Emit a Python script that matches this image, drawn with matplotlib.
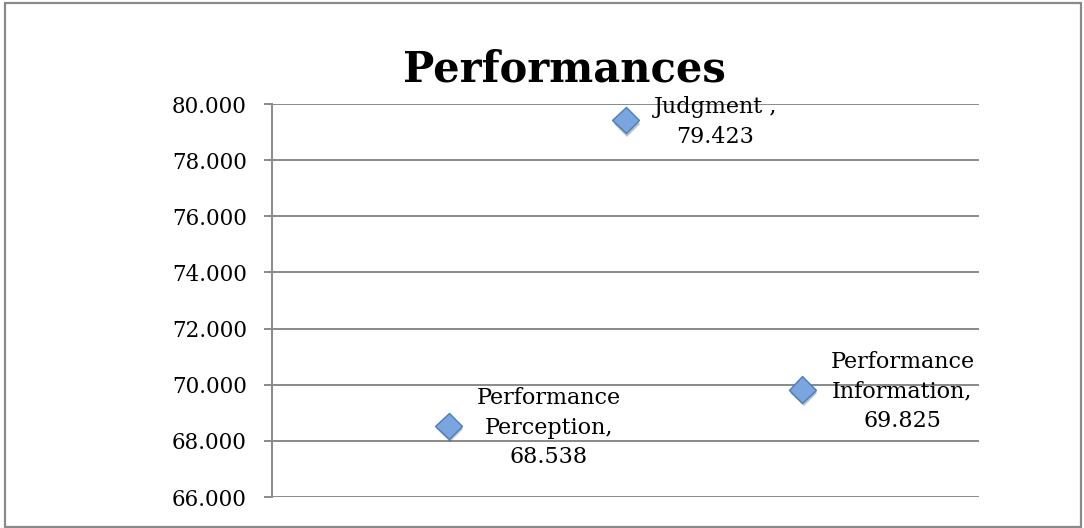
import matplotlib
matplotlib.use("Agg")
import matplotlib.pyplot as plt
import matplotlib.patheffects as pe
from matplotlib.patches import Rectangle
from matplotlib.ticker import FormatStrFormatter, MultipleLocator


categories = ["Performance\nPerception", "Judgment ", "Performance\nInformation"]
x_positions = [1, 2, 3]
scores = [68.538, 79.423, 69.825]

GRID = "#898989"
FONT = "DejaVu Serif"


def main() -> None:
    plt.rcParams["font.family"] = FONT
    fig = plt.figure(figsize=(10.84, 5.28), dpi=100)
    ax = fig.add_axes([0.2509, 0.0587, 0.6523, 0.7443])

    # outer chart frame
    fig.patches.append(Rectangle((0.005, 0.002), 0.992, 0.993, transform=fig.transFigure,
                                 fill=False, edgecolor="#8a8a8a", linewidth=1.6))

    ax.plot(x_positions, scores, linestyle="none", marker="D", markersize=13.5,
            markerfacecolor="#7aa5df", markeredgecolor="#4a7ebb", markeredgewidth=1.0,
            zorder=3,
            path_effects=[pe.SimplePatchShadow(offset=(1.0, -2.5), alpha=0.3), pe.Normal()])

    for x, y, name in zip(x_positions, scores, categories):
        ax.annotate(f"{name},\n{y:.3f}", (x, y), xytext=(28, -2), textcoords="offset pixels",
                    ha="left", va="center", multialignment="center", fontsize=16,
                    linespacing=1.45, zorder=4)

    ax.set_xlim(0, 4)
    ax.set_ylim(66, 80)
    ax.yaxis.set_major_locator(MultipleLocator(2))
    ax.yaxis.set_major_formatter(FormatStrFormatter("%.3f"))
    ax.set_xticks([])
    ax.grid(axis="y", color=GRID, linewidth=1.4)
    ax.set_axisbelow(True)
    for side in ("top", "right", "bottom"):
        ax.spines[side].set_visible(False)
    ax.spines["left"].set_color(GRID)
    ax.spines["left"].set_linewidth(1.4)
    ax.tick_params(axis="y", length=6, width=1.4, color=GRID, pad=12, labelsize=15.5)

    fig.text(0.521, 0.846, "Performances", ha="center", va="baseline",
             fontsize=30, fontweight="bold")

    fig.savefig("out.png", dpi=100)
    plt.close(fig)


if __name__ == "__main__":
    main()
